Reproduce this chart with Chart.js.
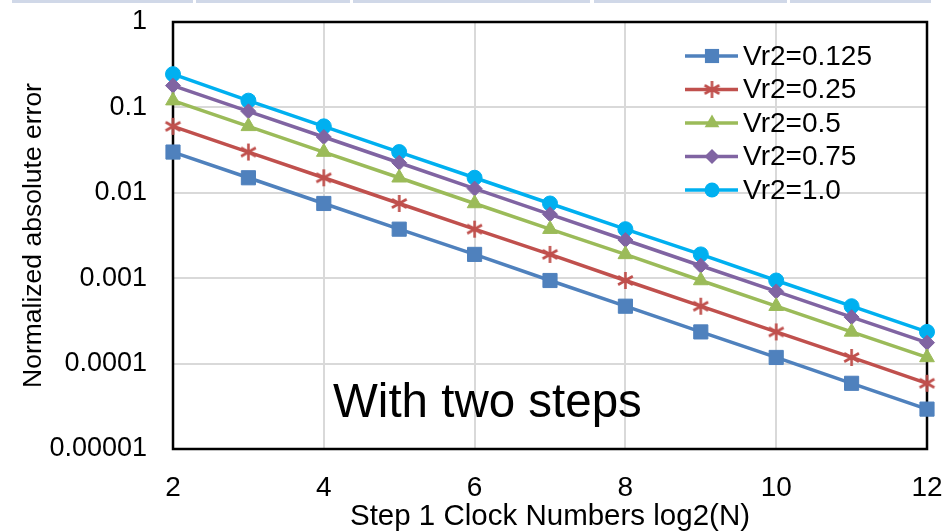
<!DOCTYPE html>
<html><head><meta charset="utf-8">
<script src="https://cdn.jsdelivr.net/npm/chart.js@4.4.0/dist/chart.umd.min.js"></script>
<style>
html,body{margin:0;padding:0;background:#fff;}
#wrap{position:relative;width:949px;height:532px;overflow:hidden;}
#wrap canvas{position:absolute;left:0;top:0;}
.strip{position:absolute;top:0;height:3px;background:#d0d8e8;}
</style></head><body>
<div id="wrap">
<canvas id="c"></canvas>
<div class="strip" style="left:12px;width:181px"></div>
<div class="strip" style="left:196px;width:154px"></div>
<div class="strip" style="left:353px;width:237px"></div>
<div class="strip" style="left:594px;width:193px"></div>
<div class="strip" style="left:790px;width:141px"></div>
</div>
<script>
// ---- data ----
const xValues = [2, 3, 4, 5, 6, 7, 8, 9, 10, 11, 12];
const seriesNames = ['Vr2=0.125', 'Vr2=0.25', 'Vr2=0.5', 'Vr2=0.75', 'Vr2=1.0'];
const vr2_0125 = [0.03, 0.015, 0.0075, 0.00375, 0.0019, 0.00094, 0.00047, 0.000235, 0.000118, 0.0000588, 0.0000293];
const vr2_025  = [0.06, 0.03, 0.015, 0.0075, 0.00375, 0.0019, 0.00094, 0.00047, 0.000235, 0.000118, 0.0000588];
const vr2_05   = [0.12, 0.06, 0.03, 0.015, 0.0075, 0.00375, 0.0019, 0.00094, 0.00047, 0.000235, 0.000118];
const vr2_075  = [0.18, 0.09, 0.045, 0.0225, 0.0112, 0.0056, 0.0028, 0.0014, 0.0007, 0.00035, 0.000176];
const vr2_10   = [0.245, 0.12, 0.06, 0.03, 0.015, 0.0075, 0.00375, 0.0019, 0.00094, 0.00047, 0.000235];
const yTickValues = [1, 0.1, 0.01, 0.001, 0.0001, 0.00001];
const yTickLabels = ['1', '0.1', '0.01', '0.001', '0.0001', '0.00001'];
const xTickValues = [2, 4, 6, 8, 10, 12];
const xTitle = 'Step 1 Clock Numbers log2(N)';
const yTitle = 'Normalized absolute error';
const annotationText = 'With two steps';
const annotationPos = [6.17, 0.0000336];

// ---- styles ----
const seriesValues = [vr2_0125, vr2_025, vr2_05, vr2_075, vr2_10];
const colors = ['#4F81BD', '#C0504D', '#9BBB59', '#8064A2', '#00B0F0'];
const radii = [10, 8.5, 8.5, 7.5, 7.5];
const FONT = "'Liberation Sans', Arial, sans-serif";

// six-armed asterisk marker (Excel style)
function makeStar(color, r) {
  const c = document.createElement('canvas');
  const s = Math.ceil(2 * r + 4);
  c.width = s; c.height = s;
  const g = c.getContext('2d');
  g.strokeStyle = color; g.lineWidth = 2.6; g.lineCap = 'butt';
  const cx = s / 2, cy = s / 2;
  g.beginPath();
  [90, 30, 150].forEach(d => {
    const a = d * Math.PI / 180;
    g.moveTo(cx - Math.cos(a) * r, cy - Math.sin(a) * r);
    g.lineTo(cx + Math.cos(a) * r, cy + Math.sin(a) * r);
  });
  g.stroke();
  return c;
}
const starImg = makeStar(colors[1], radii[1]);
const styles = ['rect', starImg, 'triangle', 'rectRot', 'circle'];

const datasets = seriesNames.map((name, i) => ({
  label: name,
  data: xValues.map((x, j) => ({x: x, y: seriesValues[i][j]})),
  borderColor: colors[i],
  backgroundColor: colors[i],
  borderWidth: 3.5,
  pointStyle: styles[i],
  pointRadius: radii[i],
  pointBackgroundColor: colors[i],
  pointBorderColor: colors[i],
  pointBorderWidth: 1,
  tension: 0,
  clip: false
}));

function marker(ctx, style, r, x, y, color) {
  ctx.save();
  ctx.fillStyle = color; ctx.strokeStyle = color;
  ctx.beginPath();
  if (style === 'rect') {
    const s = r * Math.SQRT1_2;
    ctx.rect(x - s, y - s, 2 * s, 2 * s); ctx.fill();
  } else if (style === 'circle') {
    ctx.arc(x, y, r, 0, Math.PI * 2); ctx.fill();
  } else if (style === 'rectRot') {
    ctx.moveTo(x - r, y); ctx.lineTo(x, y - r); ctx.lineTo(x + r, y); ctx.lineTo(x, y + r); ctx.closePath(); ctx.fill();
  } else if (style === 'triangle') {
    const a = -Math.PI / 2;
    for (let k = 0; k < 3; k++) {
      const ang = a + k * 2 * Math.PI / 3;
      const px = x + Math.cos(ang) * r, py = y + Math.sin(ang) * r;
      if (k === 0) ctx.moveTo(px, py); else ctx.lineTo(px, py);
    }
    ctx.closePath(); ctx.fill();
  } else if (style instanceof HTMLCanvasElement) {
    ctx.drawImage(style, x - style.width / 2, y - style.height / 2);
  }
  ctx.restore();
}

const framePlugin = {
  id: 'frame',
  beforeDatasetsDraw(chart) {
    const {ctx, chartArea: a} = chart;
    ctx.save();
    ctx.strokeStyle = '#000';
    ctx.lineWidth = 2.5;
    ctx.strokeRect(a.left, a.top, a.right - a.left, a.bottom - a.top);
    ctx.restore();
  },
  afterDatasetsDraw(chart) {
    const {ctx, chartArea: a, scales} = chart;
    ctx.save();
    const lx1 = a.left + 512, lx2 = a.left + 565, mx = a.left + 539, tx = a.left + 570;
    seriesNames.forEach((name, i) => {
      const y = a.top + 34 + i * 33.5;
      ctx.strokeStyle = colors[i];
      ctx.lineWidth = 3.5;
      ctx.beginPath(); ctx.moveTo(lx1, y); ctx.lineTo(lx2, y); ctx.stroke();
      marker(ctx, styles[i], radii[i], mx, y, colors[i]);
      ctx.fillStyle = '#000';
      ctx.font = '28px ' + FONT;
      ctx.textAlign = 'left';
      ctx.textBaseline = 'middle';
      ctx.fillText(name, tx, y + 1);
    });
    const ax = scales.x.getPixelForValue(annotationPos[0]);
    const ay = scales.y.getPixelForValue(annotationPos[1]);
    ctx.font = '47.5px ' + FONT;
    ctx.textAlign = 'center';
    ctx.textBaseline = 'middle';
    ctx.fillStyle = '#000';
    ctx.fillText(annotationText, ax, ay);
    ctx.restore();
  }
};

new Chart(document.getElementById('c'), {
  type: 'line',
  data: {datasets},
  options: {
    responsive: true,
    maintainAspectRatio: false,
    animation: false,
    layout: {padding: {top: 22, right: 22, left: 0, bottom: 0}},
    plugins: {legend: {display: false}, tooltip: {enabled: false}},
    scales: {
      x: {
        type: 'linear', min: 2, max: 12,
        afterBuildTicks: s => { s.ticks = xTickValues.map(v => ({value: v})); },
        afterFit: s => { s.height = 83; s.paddingLeft = 0; s.paddingRight = 0; },
        ticks: {font: {family: FONT, size: 28}, color: '#000', padding: 22},
        grid: {color: '#d9d9d9', lineWidth: 2, drawTicks: false},
        border: {display: false},
        title: {display: true, text: xTitle, font: {family: FONT, size: 29.5}, color: '#000', padding: {top: 0, bottom: -3}}
      },
      y: {
        type: 'logarithmic', min: 0.00001, max: 1,
        afterBuildTicks: s => { s.ticks = yTickValues.map(v => ({value: v})); },
        afterFit: s => { s.width = 173; s.paddingTop = 0; s.paddingBottom = 0; },
        ticks: {
          font: {family: FONT, size: 27}, color: '#000', padding: 26,
          callback: v => {
            const i = yTickValues.findIndex(t => Math.abs(Math.log10(t) - Math.log10(v)) < 1e-6);
            return i >= 0 ? yTickLabels[i] : '';
          }
        },
        grid: {color: '#d9d9d9', lineWidth: 2, drawTicks: false},
        border: {display: false},
        title: {display: true, text: yTitle, font: {family: FONT, size: 26.5}, color: '#000', padding: {top: 18, bottom: 0}}
      }
    }
  },
  plugins: [framePlugin]
});
</script>
</body></html>
